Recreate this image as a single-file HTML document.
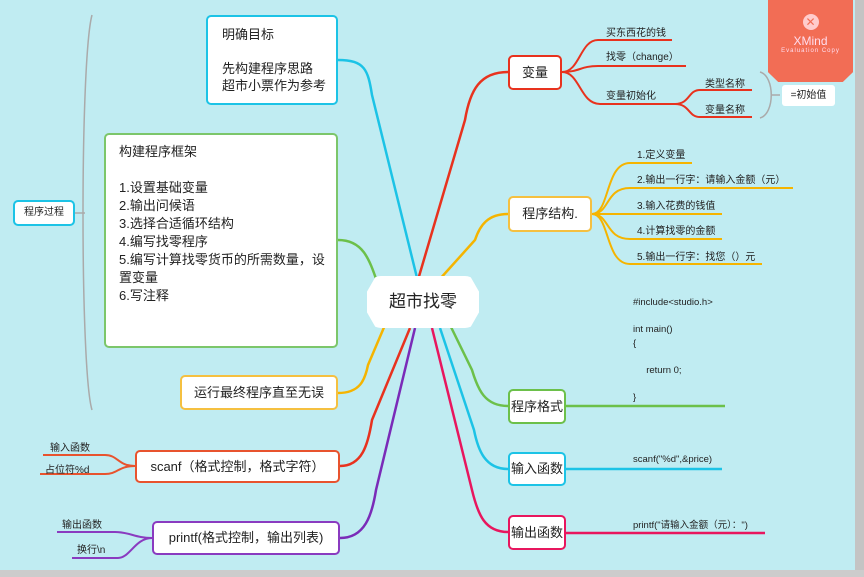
<!DOCTYPE html>
<html><head><meta charset="utf-8"><style>
body{margin:0;width:864px;height:577px;overflow:hidden;background:#c0ecf2;font-family:"Liberation Sans","Noto Sans CJK SC",sans-serif;position:relative;color:#222}
.b{position:absolute;background:#fff;border:2px solid;border-radius:5px;box-sizing:border-box;font-size:13px}
.t{position:absolute;font-size:10px;white-space:nowrap;color:#222}
svg{position:absolute;left:0;top:0}
</style></head><body>
<svg width="864" height="577" fill="none" stroke-width="2.5">
<path d="M92 15 C80 60 80 370 92 410" stroke="#aaa" stroke-width="1.5"/>
<path d="M75 213 L85 213" stroke="#aaa" stroke-width="1.5"/>
<path d="M338 60 C365 60 368 70 372 95 L420 290" stroke="#1cc3e6"/>
<path d="M508 72 C480 72 470 90 465 120 L415 290" stroke="#e8321e"/>
<path d="M338 240 C365 240 370 262 380 290" stroke="#6cc04a"/>
<path d="M508 214 C488 214 480 225 475 240 L430 290" stroke="#f5b400"/>
<path d="M338 393 C360 393 365 380 368 365 L385 325" stroke="#f5b400"/>
<path d="M340 466 C362 466 368 445 372 420 L410 328" stroke="#e8321e"/>
<path d="M340 538 C365 538 372 515 376 490 L415 328" stroke="#7a2bb8"/>
<path d="M508 406 C485 406 478 390 472 370 L450 325 M566 406 L725 406" stroke="#6cc04a"/>
<path d="M508 469 C485 469 478 450 474 430 L440 328 M566 469 L722 469" stroke="#1cc3e6"/>
<path d="M508 532 C485 532 478 515 472 490 L432 328 M566 533 L765 533" stroke="#e8165e"/>
<g stroke="#e8321e" stroke-width="2">
<path d="M562 72 C580 72 580 40 598 40 L672 40"/>
<path d="M562 72 C580 72 580 66 598 66 L686 66"/>
<path d="M562 72 C580 72 580 104 600 104 L675 104"/>
<path d="M675 104 C690 104 688 90 700 90 L752 90"/>
<path d="M675 104 C690 104 688 117 700 117 L752 117"/>
</g>
<path d="M760 72 C775 76 775 114 760 118 M772 95 L780 95" stroke="#aaa" stroke-width="1.5"/>
<g stroke="#f5b400" stroke-width="2">
<path d="M592 214 C610 214 605 163 630 163 L692 163"/>
<path d="M592 214 C610 214 605 188 630 188 L793 188"/>
<path d="M592 214 L722 214"/>
<path d="M592 214 C610 214 605 239 630 239 L722 239"/>
<path d="M592 214 C610 214 605 264 630 264 L762 264"/>
</g>
<g stroke="#e8532e" stroke-width="2">
<path d="M135 466 C118 466 118 455 105 455 L43 455"/>
<path d="M135 466 C118 466 118 474 105 474 L40 474"/>
</g>
<g stroke="#8a3bc0" stroke-width="2">
<path d="M152 538 C135 538 130 532 115 532 L57 532"/>
<path d="M152 538 C135 538 130 558 118 558 L72 558"/>
</g>
</svg>
<div style="position:absolute;left:367px;top:276px;width:112px;height:52px;background:#fff;border-radius:14px;clip-path:polygon(8% 0,92% 0,100% 30%,100% 70%,92% 100%,8% 100%,0 70%,0 30%);text-align:center;line-height:52px;font-size:17px">超市找零</div>
<div class="b" style="left:206px;top:15px;width:132px;height:90px;border-color:#1cc3e6;padding:9px 0 0 14px;line-height:17px">明确目标<br><br>先构建程序思路<br>超市小票作为参考</div>
<div class="b" style="left:104px;top:133px;width:234px;height:215px;border-color:#7cc66a;padding:8px 0 0 13px;line-height:18px">构建程序框架<br><br>1.设置基础变量<br>2.输出问候语<br>3.选择合适循环结构<br>4.编写找零程序<br>5.编写计算找零货币的所需数量，设置变量<br>6.写注释</div>
<div class="b" style="left:180px;top:375px;width:158px;height:35px;border-color:#f5c040;text-align:center;line-height:31px">运行最终程序直至无误</div>
<div class="b" style="left:13px;top:200px;width:62px;height:26px;border-color:#1cc3e6;font-size:10px;text-align:center;line-height:22px">程序过程</div>
<div class="b" style="left:135px;top:450px;width:205px;height:33px;border-color:#e8532e;text-align:center;line-height:29px">scanf（格式控制，格式字符）</div>
<div class="b" style="left:152px;top:521px;width:188px;height:34px;border-color:#8a3bc0;text-align:center;line-height:30px">printf(格式控制，输出列表)</div>
<div class="b" style="left:508px;top:55px;width:54px;height:35px;border-color:#e8321e;text-align:center;line-height:31px">变量</div>
<div class="b" style="left:508px;top:196px;width:84px;height:36px;border-color:#f5c040;text-align:center;line-height:32px">程序结构.</div>
<div class="b" style="left:508px;top:389px;width:58px;height:35px;border-color:#6cc04a;text-align:center;line-height:31px">程序格式</div>
<div class="b" style="left:508px;top:452px;width:58px;height:34px;border-color:#1cc3e6;text-align:center;line-height:30px">输入函数</div>
<div class="b" style="left:508px;top:515px;width:58px;height:35px;border-color:#e8165e;text-align:center;line-height:31px">输出函数</div>
<div class="t" style="left:606px;top:24px">买东西花的钱</div>
<div class="t" style="left:606px;top:48px">找零（change）</div>
<div class="t" style="left:606px;top:87px">变量初始化</div>
<div class="t" style="left:705px;top:75px">类型名称</div>
<div class="t" style="left:705px;top:101px">变量名称</div>
<div class="t" style="left:637px;top:146px">1.定义变量</div>
<div class="t" style="left:637px;top:171px">2.输出一行字：请输入金额（元）</div>
<div class="t" style="left:637px;top:197px">3.输入花费的钱值</div>
<div class="t" style="left:637px;top:222px">4.计算找零的金额</div>
<div class="t" style="left:637px;top:248px">5.输出一行字：找您（）元</div>
<div class="t" style="left:633px;top:296px;line-height:13.5px;font-size:9.5px">#include&lt;studio.h&gt;<br><br>int main()<br>{<br><br>&nbsp;&nbsp;&nbsp;&nbsp;&nbsp;return 0;<br><br>}</div>
<div class="t" style="left:633px;top:454px;font-size:9.5px">scanf("%d",&amp;price)</div>
<div class="t" style="left:633px;top:517px;font-size:9.5px">printf("请输入金额（元）：")</div>
<div class="t" style="left:50px;top:439px">输入函数</div>
<div class="t" style="left:45px;top:461px">占位符%d</div>
<div class="t" style="left:62px;top:516px">输出函数</div>
<div class="t" style="left:77px;top:541px">换行\n</div>
<div style="position:absolute;left:768px;top:0;width:85px;height:82px;background:#f26d55;clip-path:polygon(0 0,100% 0,100% 88%,88% 100%,12% 100%,0 88%);color:#fde;text-align:center">
<div style="margin:14px auto 0;width:16px;height:16px;border-radius:50%;background:#fcc;color:#f26d55;font-size:12px;line-height:16px">✕</div>
<div style="font-size:12px;margin-top:4px">XMind</div><div style="font-size:6px;letter-spacing:1px">Evaluation Copy</div></div>
<div style="position:absolute;left:782px;top:85px;width:53px;height:21px;background:#fff;border-radius:3px;font-size:10px;text-align:center;line-height:21px">=初始值</div>
<div style="position:absolute;left:855px;top:0;width:9px;height:577px;background:#c4c4c4"></div>
<div style="position:absolute;left:0;top:570px;width:864px;height:7px;background:#ccc"></div>
</body></html>
